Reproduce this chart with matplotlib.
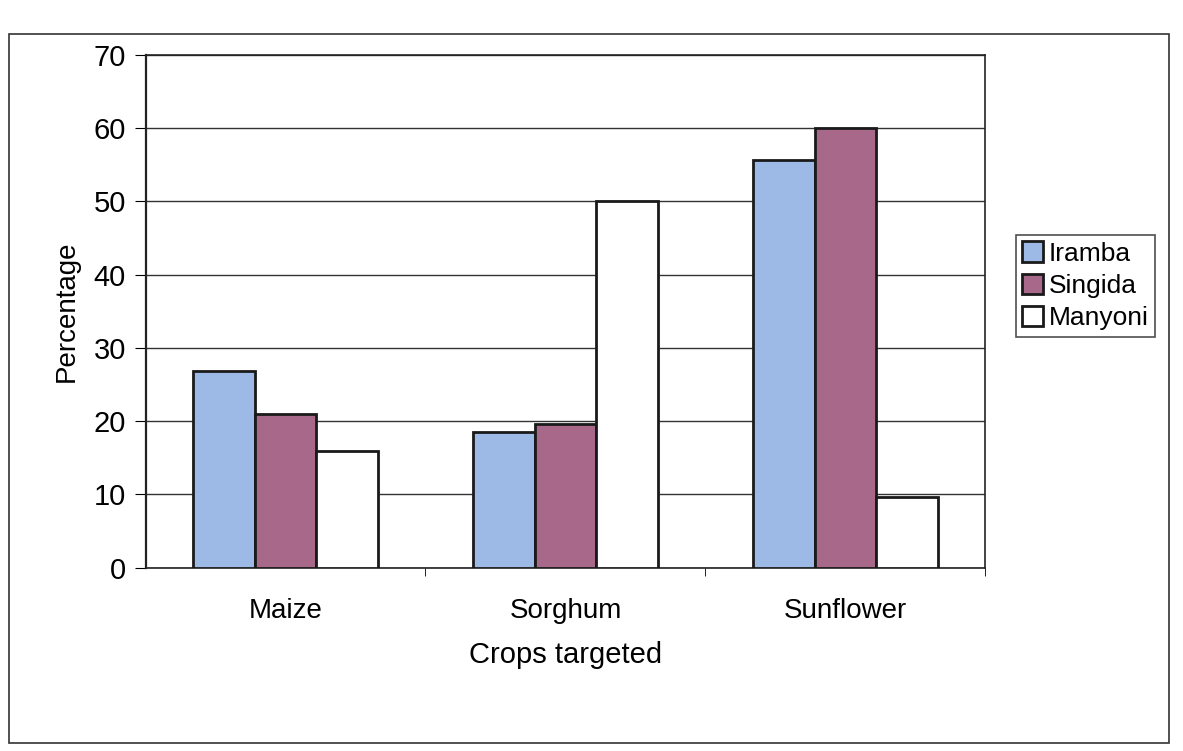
import numpy as np
import matplotlib
matplotlib.use('Agg')
import matplotlib.pyplot as plt
from matplotlib.patches import Rectangle

crops = ['Maize', 'Sorghum', 'Sunflower']
iramba = [26.8, 18.5, 55.6]
singida = [21.0, 19.6, 60.0]
manyoni = [16.0, 50.0, 9.7]

plt.rcParams['font.family'] = ['Liberation Sans', 'DejaVu Sans']

fig = plt.figure(figsize=(11.83, 7.51), dpi=100)
# outer chart border
fig.patches.append(Rectangle((0.008, 0.01), 0.98, 0.945, transform=fig.transFigure,
                             fill=False, edgecolor='#333333', linewidth=1.2))

ax = fig.add_axes([0.123, 0.244, 0.71, 0.683])
x = np.arange(len(crops))
w = 0.22
series = [('Iramba', iramba, '#9db9e6'),
          ('Singida', singida, '#a8688a'),
          ('Manyoni', manyoni, 'white')]
for i, (name, vals, col) in enumerate(series):
    ax.bar(x + (i - 1) * w, vals, w, color=col, edgecolor='#1a1a1a',
           linewidth=2, label=name, zorder=3)

ax.set_xlim(-0.5, 2.5)
ax.set_ylim(0, 70)
ax.set_yticks(range(0, 71, 10))
ax.yaxis.grid(True, color='#333333', linewidth=1)
ax.set_axisbelow(True)
ax.set_xticks(x)
ax.set_xticklabels(crops)
ax.set_xticks([0.5, 1.5, 2.5], minor=True)
ax.tick_params(axis='x', which='major', length=0, pad=22, labelsize=20)
ax.tick_params(axis='x', which='minor', length=6, direction='out')
ax.tick_params(axis='y', length=8, direction='out', labelsize=21, pad=6)
for s in ax.spines.values():
    s.set_color('#222222')
    s.set_linewidth(1.2)
ax.spines['left'].set_linewidth(1.6)
ax.set_xlabel('Crops targeted', fontsize=21, labelpad=12)
ax.set_ylabel('Percentage', fontsize=20, labelpad=10)

leg = ax.legend(loc='center left', bbox_to_anchor=(1.036, 0.55), fontsize=19,
                frameon=True, fancybox=False, edgecolor='#222222',
                handlelength=0.8, handleheight=0.8, handletextpad=0.2,
                borderpad=0.25, labelspacing=0.3, borderaxespad=0)
leg.get_frame().set_linewidth(1.2)

fig.savefig('out.png', dpi=100)
